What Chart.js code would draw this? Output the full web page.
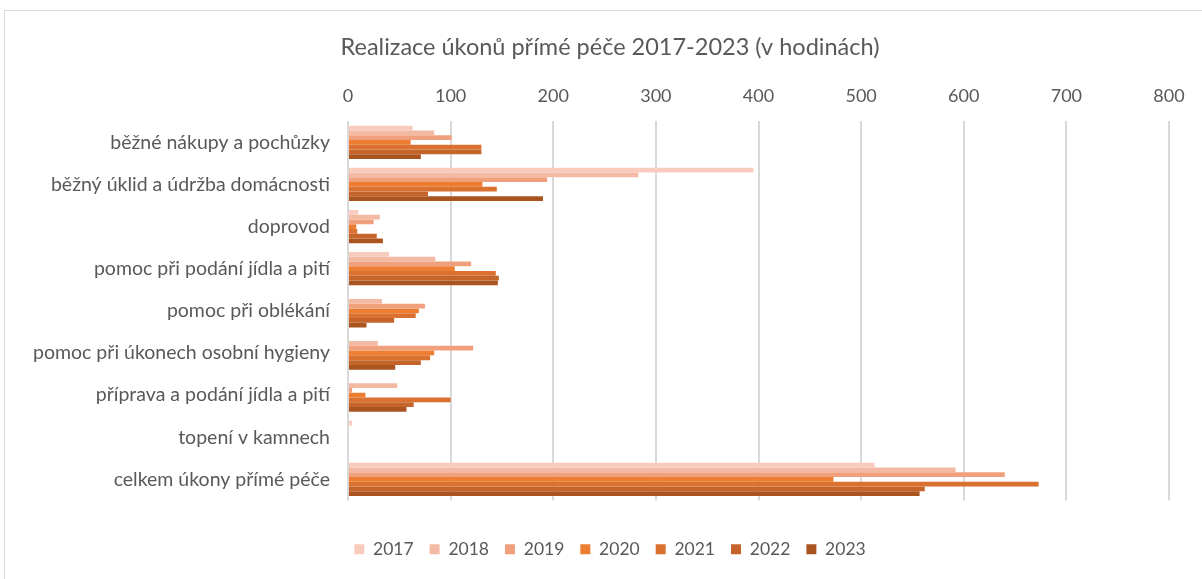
<!DOCTYPE html>
<html>
<head>
<meta charset="utf-8">
<script src="https://cdn.jsdelivr.net/npm/chart.js@4.4.1/dist/chart.umd.min.js"></script>
<style>
  html, body { margin: 0; padding: 0; background: #fff; overflow: hidden; }
  #frame { position: absolute; left: 4px; top: 10px; width: 1210px; height: 590px; border: 1px solid #d9d9d9; }
  #wrap { position: absolute; left: 0; top: 0; width: 1202px; height: 579px; }
</style>
</head>
<body>
<div id="frame"></div>
<div id="wrap"><canvas id="chart" width="1202" height="579"></canvas></div>
<script>
const categories = [
  'běžné nákupy a pochůzky',
  'běžný úklid a údržba domácnosti',
  'doprovod',
  'pomoc při podání jídla a pití',
  'pomoc při oblékání',
  'pomoc při úkonech osobní hygieny',
  'příprava a podání jídla a pití',
  'topení v kamnech',
  'celkem úkony přímé péče'
]
const years = ['2017', '2018', '2019', '2020', '2021', '2022', '2023']
const colors = ['#f8cbbd', '#f4b9a2', '#f0a07c', '#ed7d31', '#da7130', '#c5652b', '#aa5520']

const v2017 = [63, 395, 10, 40, 0, 0, 0, 4, 513]
const v2018 = [84, 283, 31, 85, 33, 29, 48, 0, 592]
const v2019 = [101, 194, 25, 120, 75, 122, 4, 0, 640]
const v2020 = [61, 131, 8, 104, 69, 84, 17, 0, 473]
const v2021 = [130, 145, 9, 144, 66, 80, 100, 0, 673]
const v2022 = [130, 78, 28, 147, 45, 71, 64, 0, 562]
const v2023 = [71, 190, 34, 146, 18, 46, 57, 0, 557]
const series = [v2017, v2018, v2019, v2020, v2021, v2022, v2023]

const textColor = '#595959'
const fontFamily = 'Lato, "Open Sans", sans-serif'

const data = {
  labels: categories,
  datasets: series.map((vals, i) => ({
    label: years[i],
    data: vals,
    backgroundColor: colors[i],
    borderWidth: 0,
    categoryPercentage: 0.79,
    barPercentage: 1
  }))
}

var chart = new Chart(document.getElementById('chart').getContext('2d'),
{
  type: 'bar',
  data: data,
  options: {
    indexAxis: 'y',
    responsive: false,
    animation: false,
    layout: {
      padding: { top: 10, left: 20, right: 2, bottom: 11 }
    },
    plugins: {
      title: {
        display: true,
        text: 'Realizace úkonů přímé péče 2017-2023 (v hodinách)',
        color: textColor,
        font: { family: fontFamily, size: 23.5, weight: 'normal' },
        padding: { top: 23, bottom: 0 }
      },
      legend: {
        position: 'bottom',
        labels: {
          color: textColor,
          boxWidth: 10,
          boxHeight: 10,
          padding: 16,
          font: { family: fontFamily, size: 17.5 }
        }
      },
      tooltip: { enabled: false }
    },
    scales: {
      x: {
        position: 'top',
        min: 0,
        max: 800,
        ticks: {
          stepSize: 100,
          color: textColor,
          padding: 14,
          font: { family: fontFamily, size: 18 }
        },
        grid: {
          color: '#d9d9d9',
          lineWidth: 2,
          drawTicks: false
        },
        border: { display: false },
        afterFit: function(scale) { scale.height = 60 }
      },
      xb: {
        type: 'linear',
        position: 'bottom',
        display: true,
        ticks: { display: false },
        grid: { display: false },
        border: { display: false },
        afterFit: function(scale) { scale.height = 24 }
      },
      y: {
        ticks: {
          color: textColor,
          padding: 18,
          font: { family: fontFamily, size: 19.5 }
        },
        grid: { display: false, drawTicks: false },
        border: { display: false },
        afterFit: function(scale) { scale.width = 328 }
      },
      yr: {
        type: 'linear',
        position: 'right',
        display: true,
        ticks: { display: false },
        grid: { display: false },
        border: { display: false },
        afterFit: function(scale) { scale.width = 31 }
      }
    }
  }
});
</script>
</body>
</html>
